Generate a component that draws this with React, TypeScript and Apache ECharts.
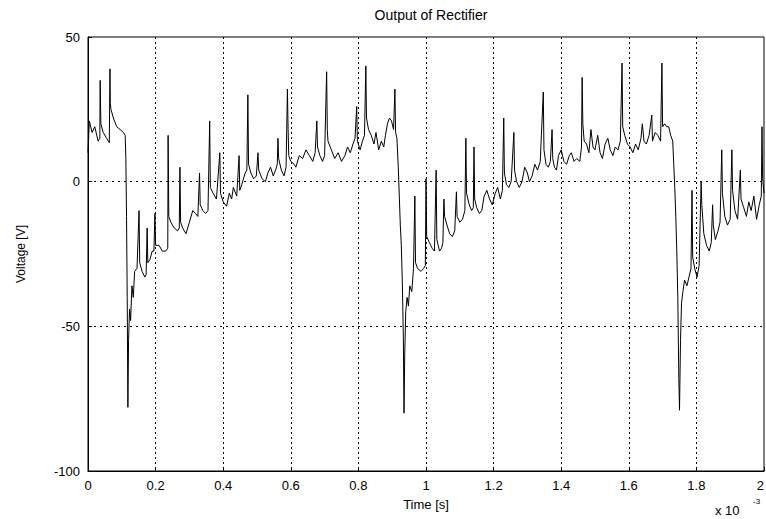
import React, { useEffect, useRef } from "react";
import * as echarts from "echarts";

const titleText = "Output of Rectifier";
const xAxisName = "Time [s]";
const yAxisName = "Voltage [V]";
const xTickLabels = ["0", "0.2", "0.4", "0.6", "0.8", "1", "1.2", "1.4", "1.6", "1.8", "2"];
const yTickLabels = ["-100", "-50", "0", "50"];

// [time (x 10^-3 s), voltage (V)]
const headSamples: number[][] = [
  [0, 10], [0.004, 21], [0.012, 17], [0.02, 19], [0.03, 14], [0.035, 15], [0.036, 35], [0.038, 20],
  [0.045, 17], [0.055, 15], [0.063, 13.5], [0.065, 39], [0.066, 27], [0.068, 25], [0.075, 22],
  [0.085, 19], [0.095, 18], [0.105, 17], [0.11, 16],
];

const cycle1Samples: number[][] = [
  [0.112, 8], [0.114, -12], [0.116, -40], [0.118, -78], [0.12, -55], [0.123, -44], [0.126, -48],
  [0.13, -36], [0.134, -40], [0.138, -31], [0.145, -30], [0.151, -10], [0.153, -28], [0.16, -31],
  [0.168, -33], [0.172, -32], [0.175, -16], [0.177, -28], [0.183, -27], [0.19, -24], [0.195, -24],
  [0.198, -11], [0.2, -22], [0.21, -22], [0.22, -24], [0.23, -24], [0.236, -23], [0.237, 16],
  [0.239, -12], [0.245, -14], [0.255, -16], [0.265, -17], [0.27, -16], [0.272, 5], [0.274, -14],
  [0.28, -16], [0.29, -18], [0.3, -14], [0.31, -10], [0.318, -11], [0.325, -12], [0.33, 3],
  [0.332, -8], [0.34, -10], [0.348, -11], [0.355, -10], [0.36, 21], [0.362, -2], [0.37, -4],
  [0.38, -6], [0.39, 10], [0.392, -4], [0.4, -7], [0.41, -8.5], [0.418, -4], [0.425, -6],
  [0.43, -2], [0.44, -5], [0.447, 9], [0.449, -3], [0.455, -1], [0.465, 3], [0.47, 4], [0.473, 30],
  [0.475, 6], [0.482, 3], [0.49, 1], [0.498, 2], [0.503, 10], [0.505, 4], [0.515, 1], [0.525, 0],
  [0.532, 3], [0.54, 5], [0.548, 2], [0.555, 4], [0.56, 6], [0.562, 15], [0.564, 8], [0.572, 4],
  [0.58, 2], [0.586, 5], [0.59, 32], [0.592, 18], [0.594, 9], [0.6, 7], [0.61, 6], [0.615, 5],
  [0.625, 9], [0.635, 8], [0.645, 11], [0.655, 9], [0.665, 7], [0.672, 10], [0.677, 21],
  [0.679, 12], [0.686, 9], [0.694, 7], [0.7, 9], [0.706, 38], [0.708, 18], [0.71, 14], [0.72, 11],
  [0.73, 8], [0.74, 10], [0.75, 7], [0.76, 9], [0.768, 12], [0.776, 10], [0.784, 13], [0.79, 15],
  [0.795, 26], [0.797, 14], [0.805, 11], [0.812, 14], [0.818, 16], [0.822, 40], [0.824, 22],
  [0.83, 18], [0.838, 16], [0.846, 13], [0.852, 17], [0.86, 11], [0.868, 14], [0.875, 12],
  [0.88, 16], [0.886, 20], [0.892, 22], [0.898, 21], [0.904, 18], [0.908, 32], [0.91, 17],
  [0.914, 15],
];

const cycle2Samples: number[][] = [
  [0.918, 5], [0.921, -5], [0.924, -15], [0.927, -22], [0.93, -35], [0.933, -54], [0.935, -80],
  [0.937, -60], [0.94, -45], [0.944, -40], [0.948, -43], [0.952, -36], [0.958, -38], [0.963, -30],
  [0.967, -5], [0.969, -28], [0.975, -30], [0.985, -31], [0.993, -30], [0.998, -29], [1.0, 1],
  [1.002, -19], [1.01, -21], [1.018, -23], [1.025, -24], [1.03, 4], [1.032, -20], [1.036, -22],
  [1.04, -24], [1.046, -23], [1.05, -21], [1.053, -6], [1.055, -12], [1.062, -15], [1.07, -18],
  [1.078, -19], [1.085, -17], [1.09, -3.5], [1.092, -12], [1.1, -14], [1.108, -13], [1.115, -10],
  [1.118, 15], [1.12, -4], [1.128, -8], [1.135, -10], [1.14, -9], [1.142, 12], [1.144, -6],
  [1.15, -9], [1.158, -11], [1.165, -10], [1.172, -5], [1.18, -3], [1.188, -6], [1.196, -8],
  [1.205, -4], [1.212, -2], [1.22, -6], [1.226, -3], [1.23, 22], [1.232, 3], [1.238, -1],
  [1.245, -2], [1.252, 0], [1.26, 17], [1.262, 4], [1.268, 0], [1.276, -2], [1.284, 0], [1.292, 5],
  [1.3, 3], [1.306, 0], [1.314, 2], [1.322, 6], [1.33, 4], [1.338, 7], [1.347, 31], [1.349, 11],
  [1.355, 6], [1.362, 5], [1.368, 7], [1.373, 18], [1.375, 8], [1.38, 5], [1.386, 4], [1.392, 9],
  [1.4, 11], [1.408, 7], [1.416, 6], [1.424, 9], [1.43, 10], [1.438, 7], [1.446, 8], [1.455, 7],
  [1.46, 12], [1.462, 36], [1.464, 20], [1.468, 14], [1.475, 13], [1.482, 10], [1.488, 18],
  [1.494, 12], [1.5, 11], [1.508, 16], [1.515, 10], [1.522, 8], [1.53, 13], [1.538, 15],
  [1.545, 11], [1.553, 9], [1.56, 12], [1.568, 11], [1.575, 14], [1.58, 41], [1.582, 19],
  [1.588, 16], [1.596, 13], [1.604, 12], [1.612, 10], [1.62, 13], [1.628, 11], [1.636, 15],
  [1.64, 20], [1.645, 14], [1.652, 13], [1.66, 16], [1.668, 23], [1.67, 14], [1.678, 17],
  [1.686, 16], [1.694, 14], [1.698, 41], [1.7, 19], [1.706, 20], [1.712, 19], [1.718, 19],
  [1.724, 16], [1.73, 14],
];

const cycle3Samples: number[][] = [
  [1.733, 6], [1.736, -2], [1.739, -12], [1.742, -24], [1.745, -40], [1.748, -68], [1.75, -79],
  [1.753, -55], [1.756, -42], [1.76, -38], [1.765, -34], [1.772, -36], [1.778, -33], [1.784, -30],
  [1.787, -3], [1.789, -26], [1.795, -30], [1.802, -33], [1.808, -29], [1.814, 0], [1.816, -8],
  [1.822, -18], [1.83, -22], [1.838, -24], [1.844, -21], [1.848, -8], [1.85, -15], [1.856, -20],
  [1.864, -17], [1.87, -14], [1.875, 11], [1.877, -4], [1.884, -12], [1.892, -15], [1.9, -13],
  [1.905, 11], [1.907, -3], [1.914, -10], [1.922, -13], [1.93, 4], [1.932, -6], [1.94, -9],
  [1.948, -12], [1.955, -7], [1.962, -10], [1.97, -5], [1.978, -13], [1.986, -8], [1.992, -5],
  [1.994, 19], [1.996, 1], [2.0, -4],
];

const FONT = "'Liberation Sans', Arial, sans-serif";

export default function App() {
  const ref = useRef<HTMLDivElement>(null);

  useEffect(() => {
    if (!ref.current) return;
    const chart = echarts.init(ref.current, null, { renderer: "svg" });
    const data = [...headSamples, ...cycle1Samples, ...cycle2Samples, ...cycle3Samples];
    chart.setOption({
      animation: false,
      backgroundColor: "#ffffff",
      textStyle: { fontFamily: FONT, color: "#000" },
      title: {
        text: titleText,
        left: 426,
        top: 3,
        textAlign: "center",
        textStyle: { fontFamily: FONT, fontSize: 14, fontWeight: "normal", color: "#000" },
      },
      grid: {
        left: 88,
        right: 2,
        top: 37,
        bottom: 48,
        outerBoundsMode: "none",
        containLabel: false,
        show: true,
        borderColor: "#000",
        borderWidth: 1,
        backgroundColor: "transparent",
      },
      xAxis: {
        type: "value",
        min: 0,
        max: 2,
        interval: 0.2,
        name: xAxisName,
        nameLocation: "middle",
        nameGap: 27,
        nameTextStyle: { fontFamily: FONT, fontSize: 13, color: "#000" },
        axisLine: { show: true, onZero: false, lineStyle: { color: "#000", width: 1 } },
        axisTick: { show: true, inside: true, length: 4, lineStyle: { color: "#000" } },
        axisLabel: {
          fontFamily: FONT,
          fontSize: 13,
          color: "#000",
          margin: 8,
          alignMaxLabel: "right",
          formatter: (v: number) => xTickLabels[Math.round(v / 0.2)] ?? "",
        },
        splitLine: {
          show: true,
          showMinLine: false,
          showMaxLine: false,
          lineStyle: { color: "#000", type: [2, 3], width: 1 },
        },
      },
      yAxis: {
        type: "value",
        min: -100,
        max: 50,
        interval: 50,
        name: yAxisName,
        nameLocation: "middle",
        nameGap: 61,
        nameTextStyle: { fontFamily: FONT, fontSize: 12, color: "#000" },
        axisLine: { show: true, onZero: false, lineStyle: { color: "#000", width: 1 } },
        axisTick: { show: true, inside: true, length: 4, lineStyle: { color: "#000" } },
        axisLabel: {
          fontFamily: FONT,
          fontSize: 13,
          color: "#000",
          margin: 8,
          formatter: (v: number) => yTickLabels[Math.round((v + 100) / 50)] ?? "",
        },
        splitLine: {
          show: true,
          showMinLine: false,
          showMaxLine: false,
          lineStyle: { color: "#000", type: [2, 4], width: 1 },
        },
      },
      graphic: [
        {
          type: "text",
          left: 715,
          top: 504,
          style: { text: "x 10", fontFamily: FONT, fontSize: 13, fill: "#000" },
        },
        {
          type: "text",
          left: 753,
          top: 497,
          style: { text: "-3", fontFamily: FONT, fontSize: 8, fill: "#000" },
        },
      ],
      series: [
        {
          type: "line",
          data,
          showSymbol: false,
          symbol: "none",
          lineStyle: { color: "#000", width: 1 },
          clip: true,
        },
      ],
    });
    return () => chart.dispose();
  }, []);

  return (
    <div
      ref={ref}
      style={{ position: "fixed", left: 0, top: 0, width: 766, height: 519, background: "#fff" }}
    />
  );
}
